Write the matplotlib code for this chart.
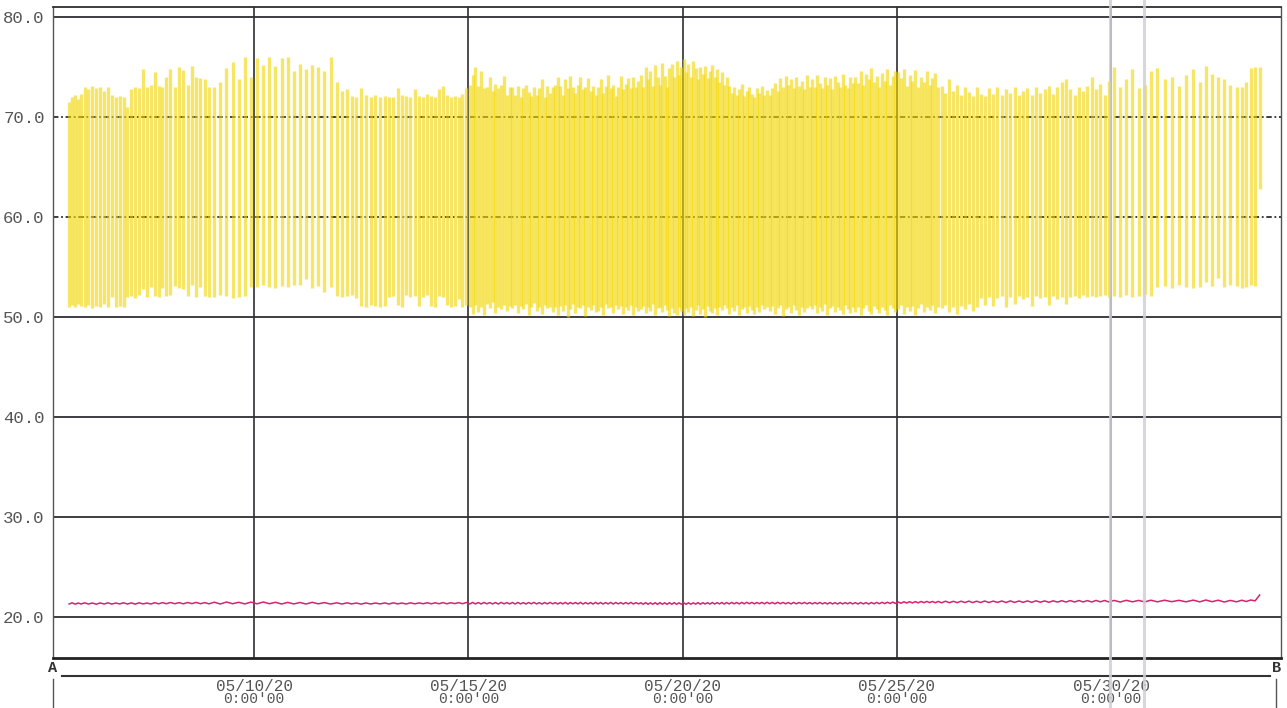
import numpy as np
import matplotlib
matplotlib.use('Agg')
import matplotlib.pyplot as plt
import matplotlib.dates as mdates
from matplotlib.lines import Line2D

# logger strokes per calendar day, May 5 .. Jun 2 (2020)
first_day = '2020-05-05'
first_day_start = 0.65   # logging starts in the afternoon of May 5
last_day_end = 0.52      # and stops around noon on Jun 2
strokes_per_day = [5, 11, 11, 10, 7, 7, 7, 9, 10, 11, 15, 16, 17, 17, 18,
                   18, 17, 16, 17, 16, 15, 11, 10, 10, 10, 7, 6, 7, 5]

# humidity swing: top and bottom of every stroke (%)
rh_high = [
    71.5, 72.0, 72.2, 71.8, 72.3,
    73.0, 72.8, 73.1, 72.9, 73.0, 72.6, 73.0, 72.2, 72.0, 72.1, 72.0,
    71.0, 72.8, 73.0, 72.9, 74.8, 73.0, 73.2, 74.5, 73.1, 73.0, 74.0,
    74.8, 73.0, 75.0, 74.7, 73.2, 75.1, 74.0, 73.9, 73.8, 73.0,
    73.0, 73.5, 74.9, 75.5, 73.8, 76.0, 74.0,
    75.9, 75.2, 76.0, 75.1, 75.9, 76.0, 74.6,
    75.3, 74.8, 75.2, 75.0, 74.6, 76.0, 73.5,
    72.6, 72.8, 72.1, 72.0, 72.9, 72.2, 72.0, 72.2, 72.0,
    72.1, 72.0, 72.0, 72.9, 72.2, 72.1, 72.0, 72.8, 72.1, 72.0,
    72.3, 72.1, 72.0, 72.8, 73.1, 72.2, 72.0, 72.1, 72.0, 72.3, 72.9,
    73.2, 74.2, 75.0, 73.1, 74.6, 72.9, 73.0, 74.0, 72.6, 73.3, 72.9, 73.2, 74.1, 72.2, 73.0,
    73.0, 72.2, 73.1, 72.0, 72.9, 73.2, 72.5, 72.1, 73.0, 72.2, 72.9, 73.8, 72.0, 73.1, 72.4, 73.0,
    73.2, 74.0, 73.1, 72.2, 73.8, 72.9, 74.1, 73.0, 72.4, 73.2, 74.0, 72.8, 73.0, 73.9, 72.6, 73.1, 72.2,
    73.0, 73.8, 72.4, 73.1, 74.2, 72.9, 73.2, 72.1, 73.0, 74.1, 72.8, 73.3, 73.9, 72.9, 74.0, 73.0, 73.6,
    74.2, 73.0, 75.0, 73.8, 74.6, 73.1, 75.2, 74.0, 73.2, 75.4, 74.1, 73.0, 74.9, 75.3, 74.0, 75.6, 74.2, 75.0,
    75.8, 74.5, 75.3, 74.0, 75.6, 74.9, 73.8, 75.0, 74.3, 75.1, 73.9, 74.6, 75.2, 74.0, 74.8, 73.5, 74.5, 73.2,
    74.0, 73.1, 72.4, 73.0, 72.2, 72.8, 73.3, 72.1, 72.6, 73.0, 72.3, 72.0, 72.9, 72.4, 73.1, 72.2, 72.7,
    72.2, 72.9, 73.4, 72.6, 73.9, 73.0, 74.1, 73.2, 73.8, 72.9, 74.0, 73.1, 73.6, 72.8, 74.2, 73.0,
    73.8, 73.0, 74.2, 73.4, 72.9, 74.0, 73.2, 73.9, 72.8, 74.1, 73.5, 73.0, 74.3, 73.2, 72.9, 74.0, 73.4,
    74.0, 73.4, 74.6, 73.2, 74.3, 73.8, 74.9, 73.5, 74.1, 73.0, 74.4, 73.6, 74.8, 73.2, 74.1, 74.6,
    74.5, 73.9, 74.8, 73.1, 74.2, 73.6, 74.7, 73.0, 74.0, 73.5, 74.6, 73.2, 73.9, 74.4, 73.0,
    73.1, 72.4, 73.8, 72.6, 73.2, 72.2, 73.0, 72.5, 72.1, 73.0, 72.3,
    72.1, 72.9, 72.3, 73.0, 72.2, 72.8, 72.4, 73.0, 72.2, 72.6,
    72.9, 72.2, 73.0, 72.4, 72.8, 73.1, 72.3, 73.0, 73.5, 73.8,
    72.8, 72.2, 73.0, 72.6, 73.1, 74.0, 72.8, 73.3, 72.2, 73.6,
    75.0, 73.0, 73.8, 74.8, 72.9, 73.2, 74.6,
    74.9, 73.8, 74.0, 73.1, 74.2, 74.8,
    73.5, 75.1, 74.3, 74.0, 73.8, 73.2, 73.0,
    73.0, 73.5, 74.9, 75.0, 75.0,
]
rh_low = [
    51.0, 51.2, 51.0, 51.3, 51.1,
    51.0, 51.2, 50.9, 51.1, 51.0, 51.3, 51.0, 52.0, 51.0, 51.1, 51.0,
    52.0, 52.1, 51.9, 52.2, 52.8, 52.0, 53.0, 52.1, 52.0, 52.9, 52.1,
    52.2, 53.1, 52.9, 52.8, 52.1, 53.2, 52.0, 53.0, 52.1, 52.0,
    52.0, 52.2, 52.1, 51.9, 52.0, 52.1, 53.0,
    53.0, 53.2, 53.0, 52.9, 53.1, 53.0, 53.2,
    53.2, 53.8, 52.9, 53.1, 52.5, 53.0, 52.1,
    52.0, 52.1, 52.2, 51.9, 51.1, 51.0, 51.2, 51.1, 51.0,
    51.1, 52.0, 52.1, 51.2, 51.0, 52.2, 52.0, 52.1, 51.1, 52.0,
    52.2, 51.1, 51.0, 52.1, 52.0, 51.2, 51.0, 51.1, 51.8, 51.0, 51.2,
    51.0, 50.3, 51.2, 50.5, 51.0, 50.2, 51.3, 50.9, 51.5, 50.4, 51.0, 50.8, 51.2, 50.6, 51.1,
    50.9, 51.2, 50.4, 51.1, 50.8, 51.3, 50.2, 51.0, 51.4, 50.6, 51.0, 50.3, 51.2, 50.9, 51.0, 50.5,
    51.0, 50.2, 51.1, 50.6, 51.2, 50.0, 50.8, 51.3, 50.4, 51.0, 50.9, 51.2, 50.1, 51.0, 50.7, 51.2, 50.5,
    50.6, 51.0, 50.2, 51.3, 50.9, 51.0, 50.4, 51.2, 50.8, 51.1, 50.3, 51.0, 50.7, 51.2, 50.2, 51.0, 50.6,
    50.8, 51.1, 50.4, 51.0, 50.6, 51.3, 50.2, 50.9, 51.0, 50.5, 51.2, 50.7, 50.1, 50.9, 50.4, 50.2, 51.0, 50.6,
    50.2, 50.9, 50.5, 51.0, 50.1, 50.7, 51.2, 50.3, 50.8, 50.0, 51.1, 50.6, 50.4, 50.9, 50.2, 51.0, 50.7, 51.2,
    50.9, 50.3, 51.0, 50.6, 51.2, 50.2, 50.8, 51.0, 50.4, 51.1, 50.7, 50.3, 51.0, 50.5, 51.2, 50.8, 51.0,
    50.6, 51.1, 50.3, 50.9, 51.2, 50.1, 50.8, 51.0, 50.4, 51.2, 50.7, 50.2, 51.0, 50.5, 50.9, 51.1,
    50.8, 51.2, 50.4, 51.0, 50.6, 51.3, 50.2, 50.9, 51.1, 50.5, 51.0, 50.7, 50.3, 51.2, 50.8, 50.4, 51.0,
    50.5, 51.0, 50.2, 50.9, 51.2, 50.6, 50.3, 51.1, 50.8, 50.4, 51.0, 50.7, 50.2, 51.2, 50.9, 50.5,
    50.8, 51.2, 50.3, 51.0, 50.6, 51.1, 50.2, 50.9, 51.3, 50.5, 51.0, 50.7, 51.2, 50.4, 51.0,
    50.9, 51.2, 50.5, 51.0, 50.3, 51.1, 50.8, 51.3, 50.6, 51.0, 51.9,
    51.2, 52.0, 51.1, 51.9, 52.1, 51.0, 52.0, 51.3, 52.1, 51.8,
    52.0, 51.1, 52.1, 51.9, 52.0, 51.2, 52.1, 51.8, 52.0, 51.3,
    52.0, 52.1, 51.9, 52.2, 52.0, 52.1, 52.0, 52.1, 52.2, 52.0,
    52.1, 52.0, 52.2, 52.0, 52.1, 52.3, 52.1,
    53.0, 53.1, 52.9, 53.2, 53.0, 52.9,
    53.0, 53.5, 53.1, 53.9, 53.0, 53.2, 53.1,
    52.9, 53.0, 53.2, 53.1, 62.8,
]
# temperature at each stroke (deg C)
temp = [
    21.30, 21.42, 21.28, 21.40, 21.30,
    21.42, 21.30, 21.40, 21.28, 21.41, 21.30, 21.42, 21.29, 21.40, 21.31, 21.42,
    21.30, 21.41, 21.29, 21.42, 21.31, 21.40, 21.30, 21.43, 21.32, 21.44, 21.33,
    21.45, 21.33, 21.44, 21.32, 21.45, 21.34, 21.46, 21.33, 21.44, 21.32,
    21.48, 21.30, 21.50, 21.33, 21.47, 21.31, 21.49,
    21.32, 21.50, 21.33, 21.47, 21.30, 21.46, 21.31,
    21.45, 21.30, 21.47, 21.32, 21.44, 21.30, 21.42,
    21.30, 21.42, 21.31, 21.40, 21.29, 21.41, 21.30, 21.40, 21.31,
    21.41, 21.30, 21.42, 21.31, 21.40, 21.30, 21.42, 21.32, 21.41, 21.33,
    21.43, 21.32, 21.42, 21.33, 21.44, 21.32, 21.43, 21.34, 21.44, 21.33, 21.45,
    21.30, 21.46, 21.31, 21.45, 21.30, 21.46, 21.32, 21.44, 21.31, 21.45, 21.30, 21.46, 21.32, 21.44, 21.31,
    21.45, 21.30, 21.46, 21.31, 21.44, 21.30, 21.45, 21.32, 21.46, 21.31, 21.44, 21.30, 21.45, 21.31, 21.46, 21.32,
    21.44, 21.30, 21.45, 21.31, 21.46, 21.30, 21.44, 21.32, 21.45, 21.31, 21.46, 21.30, 21.44, 21.31, 21.45, 21.30, 21.46,
    21.31, 21.45, 21.30, 21.44, 21.31, 21.46, 21.30, 21.45, 21.32, 21.44, 21.30, 21.45, 21.31, 21.46, 21.30, 21.44, 21.31,
    21.43, 21.28, 21.44, 21.27, 21.42, 21.28, 21.43, 21.26, 21.44, 21.28, 21.42, 21.27, 21.43, 21.28, 21.44, 21.27, 21.42, 21.28,
    21.42, 21.27, 21.43, 21.28, 21.42, 21.29, 21.44, 21.28, 21.43, 21.30, 21.44, 21.29, 21.45, 21.30, 21.44, 21.31, 21.45, 21.30,
    21.45, 21.31, 21.46, 21.32, 21.45, 21.31, 21.46, 21.32, 21.47, 21.33, 21.46, 21.32, 21.45, 21.33, 21.46, 21.32, 21.47,
    21.33, 21.46, 21.32, 21.47, 21.33, 21.46, 21.32, 21.45, 21.31, 21.46, 21.32, 21.45, 21.33, 21.46, 21.32, 21.45,
    21.31, 21.45, 21.32, 21.46, 21.31, 21.44, 21.30, 21.45, 21.31, 21.44, 21.30, 21.45, 21.31, 21.44, 21.32, 21.45, 21.31,
    21.44, 21.30, 21.45, 21.31, 21.44, 21.30, 21.45, 21.32, 21.46, 21.33, 21.47, 21.34, 21.48, 21.35, 21.49, 21.36,
    21.50, 21.38, 21.52, 21.40, 21.53, 21.41, 21.54, 21.42, 21.55, 21.43, 21.56, 21.44, 21.55, 21.43, 21.56,
    21.42, 21.58, 21.43, 21.57, 21.44, 21.58, 21.45, 21.59, 21.44, 21.58, 21.45,
    21.60, 21.45, 21.59, 21.46, 21.60, 21.45, 21.61, 21.46, 21.60, 21.47,
    21.61, 21.47, 21.62, 21.48, 21.61, 21.47, 21.62, 21.49, 21.63, 21.50,
    21.64, 21.50, 21.65, 21.51, 21.64, 21.50, 21.66, 21.52, 21.65, 21.51,
    21.66, 21.50, 21.67, 21.52, 21.66, 21.51, 21.68,
    21.52, 21.68, 21.53, 21.67, 21.52, 21.69,
    21.52, 21.70, 21.53, 21.68, 21.50, 21.66, 21.52,
    21.68, 21.55, 21.70, 21.62, 22.20,
]

y_ticks = [20.0, 30.0, 40.0, 50.0, 60.0, 70.0, 80.0]
dotted_ticks = [60.0, 70.0]
date_ticks = ['2020-05-10', '2020-05-15', '2020-05-20', '2020-05-25', '2020-05-30']
date_labels = ['05/10/20', '05/15/20', '05/20/20', '05/25/20', '05/30/20']
time_label = "0:00'00"
cursor_times = ['2020-05-29 23:26', '2020-05-30 18:30']
x_start, x_end = '2020-05-05 07:25', '2020-06-02 23:15'

mono = 'Liberation Mono'
grid_c = '#2e2e33'

# stroke times: spread evenly over each logged day
base = mdates.datestr2num(first_day)
t = []
for d, n in enumerate(strokes_per_day):
    lo = first_day_start if d == 0 else 0.0
    hi = last_day_end if d == len(strokes_per_day) - 1 else 1.0
    step = (hi - lo) / n
    t.extend(base + d + lo + step * (np.arange(n) + 0.5))
t = np.array(t)

fig = plt.figure(figsize=(12.87, 7.08), dpi=100)
ax = fig.add_axes([0.0412, 0.0706, 0.9542, 0.9195])

for v in y_ticks:
    if v in dotted_ticks:
        ax.axhline(v, color=grid_c, lw=1.3, ls=(0, (3, 1.5, 1, 1.5)), zorder=1)
    else:
        ax.axhline(v, color=grid_c, lw=1.3, zorder=1)
for d in date_ticks:
    ax.axvline(mdates.datestr2num(d), color=grid_c, lw=1.2, zorder=1)

for c in cursor_times:
    ax.axvline(mdates.datestr2num(c), ymin=-0.08, ymax=1.011, color='#cfcfd8',
               lw=2.2, alpha=0.85, clip_on=False, zorder=5)

ax.vlines(t, rh_low, rh_high, colors='#f2d600', alpha=0.6, lw=2.4, zorder=3)
ax.plot(t, temp, color='#d4246f', lw=1.1, zorder=4)

ax.set_xlim(mdates.datestr2num(x_start), mdates.datestr2num(x_end))
ax.set_ylim(15.9, 81.0)
ax.set_yticks(y_ticks)
ax.set_yticklabels(['%.1f' % v for v in y_ticks], fontfamily=mono,
                   fontsize=12.5, color='#555555')
ax.set_xticks([])
ax.tick_params(axis='y', length=0, pad=6)

ax.spines['top'].set_color(grid_c)
ax.spines['top'].set_linewidth(1.3)
ax.spines['bottom'].set_color('#222222')
ax.spines['bottom'].set_linewidth(2.0)
for s in ['left', 'right']:
    ax.spines[s].set_color('#555555')
    ax.spines[s].set_linewidth(1.0)
    ax.spines[s].set_linestyle((0, (2, 1)))

# date band under the chart
trans = ax.get_xaxis_transform()
for d, lab in zip(date_ticks, date_labels):
    x = mdates.datestr2num(d)
    ax.text(x, -0.043, lab, transform=trans, ha='center', va='center',
            fontfamily=mono, fontsize=11.5, color='#555555')
    ax.text(x, -0.063, time_label, transform=trans, ha='center', va='center',
            fontfamily=mono, fontsize=10.5, color='#555555')

ax.add_line(Line2D([0.0073, 0.991], [-0.0276, -0.0276], transform=ax.transAxes,
                   color='#333333', lw=1.5, clip_on=False))
ax.add_line(Line2D([0.0, 0.0], [-0.033, -0.08], transform=ax.transAxes,
                   color='#555555', lw=1.0, clip_on=False))
ax.add_line(Line2D([0.9955, 0.9955], [-0.033, -0.08], transform=ax.transAxes,
                   color='#555555', lw=1.0, clip_on=False))
ax.text(0.0, -0.0155, 'A', transform=ax.transAxes, ha='center', va='center',
        fontfamily=mono, fontweight='bold', fontsize=11, color='#333333')
ax.text(0.9965, -0.0155, 'B', transform=ax.transAxes, ha='center', va='center',
        fontfamily=mono, fontweight='bold', fontsize=11, color='#333333')

fig.savefig('out.png', dpi=100)
